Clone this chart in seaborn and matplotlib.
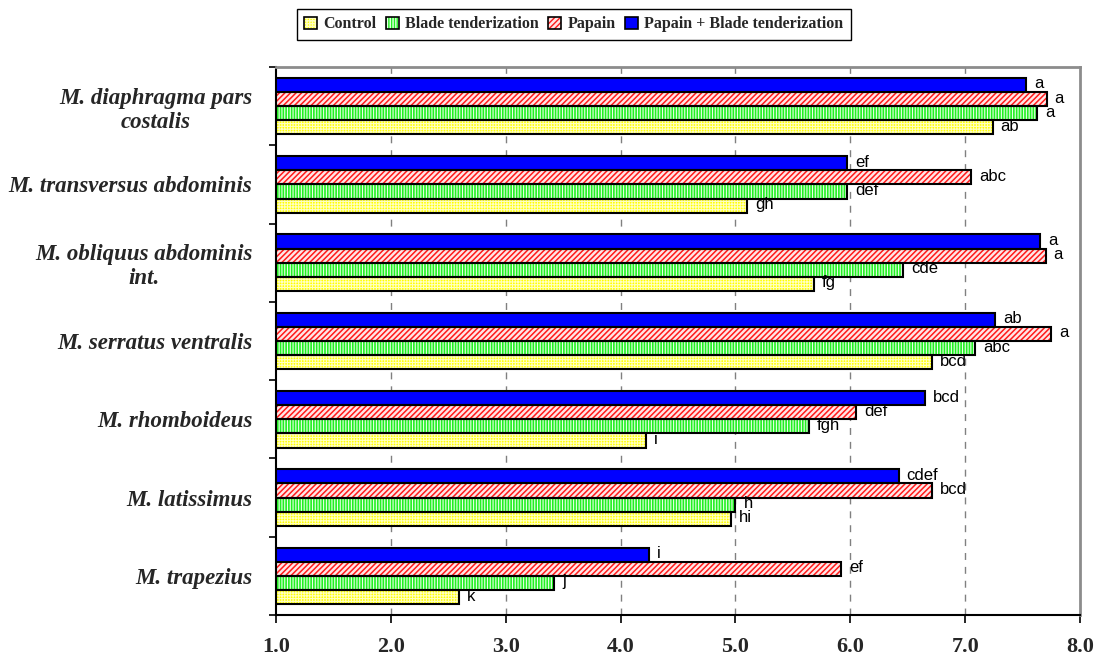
import numpy as np
import pandas as pd
import matplotlib
matplotlib.use("Agg")
import matplotlib.pyplot as plt
import seaborn as sns
from matplotlib.patches import Rectangle, Patch
from matplotlib.legend_handler import HandlerTuple

# Muscles, top to bottom
categories = [
    "M. diaphragma pars\ncostalis",
    "M. transversus abdominis",
    "M. obliquus abdominis\nint.",
    "M. serratus ventralis",
    "M. rhomboideus",
    "M. latissimus",
    "M. trapezius",
]
series = ["Control", "Blade tenderization", "Papain", "Papain + Blade tenderization"]

control = [7.24, 5.10, 5.68, 6.71, 4.22, 4.96, 2.59]
blade = [7.63, 5.97, 6.46, 7.09, 5.64, 5.00, 3.42]
papain = [7.71, 7.05, 7.70, 7.75, 6.05, 6.71, 5.92]
papain_blade = [7.53, 5.97, 7.65, 7.26, 6.65, 6.42, 4.25]

control_letters = ["ab", "gh", "fg", "bcd", "i", "hi", "k"]
blade_letters = ["a", "def", "cde", "abc", "fgh", "h", "j"]
papain_letters = ["a", "abc", "a", "a", "def", "bcd", "ef"]
papain_blade_letters = ["a", "ef", "a", "ab", "bcd", "cdef", "i"]

x_ticks = [1.0, 2.0, 3.0, 4.0, 5.0, 6.0, 7.0, 8.0]

values = {"Control": control, "Blade tenderization": blade,
          "Papain": papain, "Papain + Blade tenderization": papain_blade}
letters = {"Control": control_letters, "Blade tenderization": blade_letters,
           "Papain": papain_letters, "Papain + Blade tenderization": papain_blade_letters}

# face colour, hatch colour, hatch pattern, hatch line width
styles = {
    "Control": ("#ffff00", "#ffffc0", "++++++", 0.8),
    "Blade tenderization": ("#22f022", "#e8ffe8", "||||||", 0.8),
    "Papain": ("#ffe6e6", "#ff1a1a", "//////", 1.1),
    "Papain + Blade tenderization": ("#0000ff", "#0000ff", None, 0.8),
}

df = pd.DataFrame(
    [(c, s, values[s][i]) for s in series for i, c in enumerate(categories)],
    columns=["muscle", "treatment", "value"],
)

sns.set_style("white")

fig = plt.figure(figsize=(10.97, 6.59), dpi=100)
ax = fig.add_axes([0.2516, 0.0668, 0.7329, 0.8315])

draw_order = ["Papain + Blade tenderization", "Papain", "Blade tenderization", "Control"]
sns.barplot(data=df, y="muscle", x="value", hue="treatment", order=categories,
            hue_order=draw_order, orient="h", width=0.724, errorbar=None,
            legend=False, ax=ax, saturation=1)

for name, cont in zip(draw_order, ax.containers):
    fc, hc, hatch, hlw = styles[name]
    for bar, lab in zip(cont, letters[name]):
        bar.set_facecolor(fc)
        bar.set_edgecolor(hc)
        bar.set_linewidth(0)
        bar.set_hatch(hatch)
        if hasattr(bar, "set_hatch_linewidth"):
            bar.set_hatch_linewidth(hlw)
        outline = Rectangle((bar.get_x(), bar.get_y()), bar.get_width(), bar.get_height(),
                            fill=False, edgecolor="black", linewidth=1.5, zorder=3)
        ax.add_patch(outline)
        ax.annotate(lab, (bar.get_width(), bar.get_y() + bar.get_height() / 2),
                    xytext=(8, 1), textcoords="offset pixels", va="center", ha="left",
                    fontfamily="Liberation Sans", fontsize=12, color="black",
                    annotation_clip=False)

ax.set_xlim(1, 8)
ax.set_ylim(6.5, -0.5)
ax.set_axisbelow(True)
ax.grid(False)
for v in x_ticks[1:-1]:
    ax.axvline(v, color="#808080", linewidth=1, linestyle=(0, (5, 5)), zorder=0)

ax.set_xlabel("")
ax.set_ylabel("")
ax.set_xticks(x_ticks)
ax.set_xticklabels([f"{v:.1f}" for v in x_ticks], fontfamily="Liberation Serif",
                   fontweight="bold", fontsize=16)
ax.tick_params(axis="x", direction="out", length=6, width=1.2, color="black",
               pad=10, bottom=True)

ax.set_yticks(range(len(categories)))
ax.set_yticklabels(categories, fontfamily="Liberation Serif", fontweight="bold",
                   fontstyle="italic", fontsize=16.5)
for t in ax.get_yticklabels():
    t.set_multialignment("center")
    t.set_linespacing(1.2)
ax.tick_params(axis="y", which="major", length=0, pad=17, left=True)
ax.set_yticks(np.arange(-0.5, len(categories), 1), minor=True)
ax.tick_params(axis="y", which="minor", direction="out", length=5, width=1.2,
               color="black", left=True)

for side in ("left", "bottom"):
    ax.spines[side].set_color("black")
    ax.spines[side].set_linewidth(1.5)
for side in ("top", "right"):
    ax.spines[side].set_color("#8c8c8c")
    ax.spines[side].set_linewidth(2)

handles = []
for s in series:
    fc, hc, hatch, hlw = styles[s]
    handles.append((Patch(facecolor=fc, edgecolor=hc, hatch=hatch, linewidth=0),
                    Patch(fill=False, edgecolor="black", linewidth=1.2)))
fig.legend(handles, series, handler_map={tuple: HandlerTuple(ndivide=1)},
           loc="upper center", bbox_to_anchor=(0.523, 0.986), ncol=4,
           frameon=True, fancybox=False, edgecolor="black", framealpha=1,
           prop={"family": "Liberation Serif", "weight": "bold", "size": 11.5},
           handlelength=0.8, handleheight=0.8, handletextpad=0.4,
           columnspacing=0.6, borderpad=0.45, borderaxespad=0)

fig.savefig("out.png", dpi=100)
